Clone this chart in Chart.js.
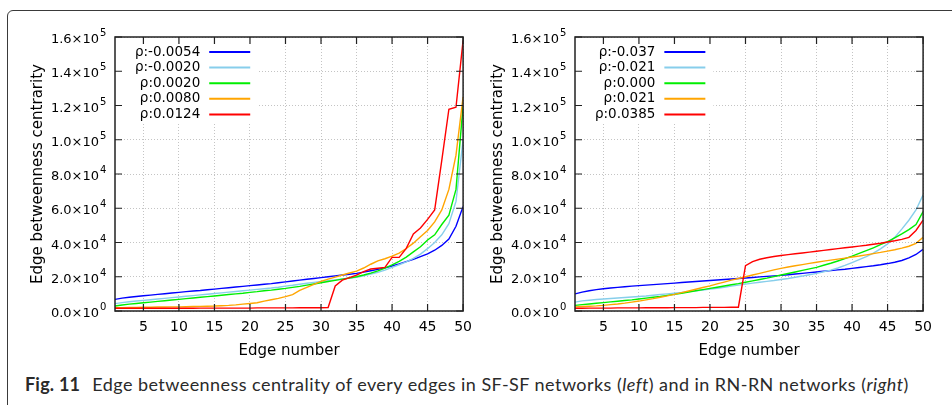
<!DOCTYPE html>
<html>
<head>
<meta charset="utf-8">
<script src="https://cdn.jsdelivr.net/npm/chart.js@4.4.1/dist/chart.umd.min.js"></script>
<style>
  html, body { margin: 0; padding: 0; background: #fff; }
  body { width: 952px; height: 405px; position: relative; overflow: hidden; }
  .card { position: absolute; left: 7px; top: 10px; width: 980px; height: 430px;
          border: 1px solid #3a3a3a; border-radius: 6px; box-sizing: border-box; }
  canvas { position: absolute; top: 0; }
  #sfChart { left: 0; }
  #rnChart { left: 460px; }
  .caption { position: absolute; left: 25px; top: 373px; font-family: Lato, sans-serif;
             font-size: 18px; letter-spacing: 0.45px; color: #2a2a2a; white-space: nowrap; }
  .caption b { margin-right: 7px; letter-spacing: 0.2px; }
</style>
</head>
<body>
<div class="card"></div>
<canvas id="sfChart" width="480" height="370"></canvas>
<canvas id="rnChart" width="480" height="370"></canvas>
<div class="caption"><b>Fig. 11</b> Edge betweenness centrality of every edges in SF-SF networks (<i>left</i>) and in RN-RN networks (<i>right</i>)</div>

<script>
// x: edge number 1..50
const edges = [1,2,3,4,5,6,7,8,9,10,11,12,13,14,15,16,17,18,19,20,21,22,23,24,25,
               26,27,28,29,30,31,32,33,34,35,36,37,38,39,40,41,42,43,44,45,46,47,48,49,50];
const xTicks = [5, 10, 15, 20, 25, 30, 35, 40, 45, 50];
const yTicks = [0, 20000, 40000, 60000, 80000, 100000, 120000, 140000, 160000];

// SF-SF networks (left)
const sfLabels = ['ρ:-0.0054', 'ρ:-0.0020', 'ρ:0.0020', 'ρ:0.0080', 'ρ:0.0124'];
const sfNeg0054 = [6800,7500,8000,8500,8900,9300,9700,10100,10500,10900,11300,11700,12000,12400,12800,
  13200,13600,14000,14400,14800,15200,15600,16000,16500,17000,17500,18000,18500,19000,19500,
  20000,20500,21000,21500,22000,22700,23500,24300,25200,26300,27500,28800,30200,31800,33400,
  35500,38300,42000,49500,61000];
const sfNeg0020 = [4300,4900,5400,5800,6200,6600,7000,7400,7800,8200,8600,9000,9400,9800,10200,
  10600,11000,11400,11800,12200,12600,13000,13400,13900,14500,15000,15600,16200,16700,17200,
  17700,18200,18700,19200,19700,20600,21600,22600,23900,25500,27000,28700,30700,33200,36400,
  40000,44500,51000,64000,100000];
const sfPos0020 = [2900,3500,4000,4400,4800,5200,5600,6000,6400,6800,7200,7600,8000,8400,8800,
  9200,9600,10000,10400,10900,11300,11800,12200,12700,13200,13800,14400,15100,15800,16500,
  17200,17900,18600,19300,20000,21000,22100,23400,25000,26900,29000,31500,34500,37500,41500,
  44500,50500,56000,71000,120000];
const sfPos0080 = [2000,2000,2100,2100,2200,2200,2300,2300,2400,2400,2500,2600,2700,2800,2900,
  3100,3300,3600,4000,4400,4800,5800,6600,7400,8400,9600,12000,13800,15600,17300,
  18600,19800,21000,22200,23300,25100,27300,29300,30500,32000,33800,36500,39600,43300,47000,
  52000,59000,71000,91000,125000];
const sfPos0124 = [1600,1600,1600,1600,1600,1600,1600,1600,1600,1600,1600,1600,1700,1700,1700,
  1700,1700,1700,1700,1700,1800,1800,1800,1800,1800,1800,1900,1900,1900,1900,
  2000,14600,18000,19500,21000,23000,24500,25000,25500,31300,31300,36600,45000,48500,53500,
  59000,88000,117800,119000,158000];

// RN-RN networks (right)
const rnLabels = ['ρ:-0.037', 'ρ:-0.021', 'ρ:0.000', 'ρ:0.021', 'ρ:0.0385'];
const rnNeg037 = [10000,11000,11800,12500,13000,13400,13800,14200,14500,14800,15100,15400,15700,16000,16300,
  16600,16900,17200,17500,17800,18100,18400,18700,19000,19300,19600,19900,20200,20500,20800,
  21200,21600,22000,22400,22800,23200,23600,24000,24400,24900,25400,25900,26400,27000,27700,
  28500,29500,31000,33000,36000];
const rnNeg021 = [5200,5900,6300,6700,7000,7300,7600,7900,8200,8500,8800,9200,9600,10000,10400,
  10800,11300,11800,12300,12800,13300,13900,14500,15100,15700,16300,16800,17300,17800,18400,
  19000,19700,20400,21200,22000,22900,23900,25100,26600,28300,30000,31800,33800,36300,39200,
  43000,47800,53000,59000,67800];
const rnPos000 = [3300,3700,4100,4500,4900,5300,5700,6100,6500,7000,7500,8000,8500,9100,9700,
  10400,11100,11800,12500,13200,13900,14600,15300,16000,16800,17600,18400,19200,20100,21000,
  21900,22800,23700,24600,25500,26700,27900,29200,30600,32000,33600,35200,36900,38700,40500,
  42700,45000,47500,50500,58000];
const rnPos021 = [2400,2600,2800,3000,3300,3700,4100,4600,5200,5800,6500,7200,8000,8800,9700,
  10700,11700,12700,13700,14700,15800,16900,18000,19000,20000,21000,22000,23000,24000,24900,
  25700,26400,27100,27800,28500,29100,29700,30300,30900,31500,32100,32800,33500,34200,35000,
  35800,36700,37800,39500,43000];
const rnPos0385 = [1600,1600,1700,1700,1700,1700,1800,1800,1800,1800,1900,1900,1900,1900,2000,
  2000,2000,2000,2100,2100,2100,2100,2200,2200,26500,28800,30200,31100,31800,32400,
  32900,33400,33900,34400,34900,35400,35900,36400,36900,37400,37900,38400,39000,39600,40300,
  41000,41800,43000,47000,53000];

const colors = ['#0000ff', '#87ceeb', '#00ee00', '#ffa500', '#ff0000'];
const FONT = 'DejaVu Sans';

function sup(ctx, v, x, y) {
  let mant = '0.0', exp = '0';
  if (v > 0) {
    const e = Math.floor(Math.log10(v));
    mant = (v / Math.pow(10, e)).toFixed(1);
    exp = String(e);
  }
  ctx.textAlign = 'right';
  ctx.textBaseline = 'alphabetic';
  ctx.font = '13px "' + FONT + '"';
  ctx.fillText(mant + '×10', x, y + 6);
  ctx.textAlign = 'left';
  ctx.font = '10px "' + FONT + '"';
  ctx.fillText(exp, x + 1, y - 1);
}

const framePlugin = {
  id: 'frame',
  afterDraw(chart) {
    const {ctx, chartArea: a, scales: {x, y}} = chart;
    const labels = chart.data.datasets.map(d => d.label);
    ctx.save();

    // key box
    ctx.font = '13.5px "' + FONT + '"';
    const maxW = Math.max(...labels.map(t => ctx.measureText(t).width));
    const textRight = a.left + 20 + maxW;
    const sampleL = textRight + 9, sampleR = sampleL + 41;
    ctx.fillStyle = '#fff';
    ctx.fillRect(a.left + 1, a.top + 1, sampleR + 7 - a.left, 123 - 37);
    labels.forEach((t, i) => {
      const ly = a.top + 15 + i * 15.6;
      ctx.fillStyle = '#000';
      ctx.textAlign = 'right';
      ctx.textBaseline = 'middle';
      ctx.fillText(t, textRight, ly);
      ctx.strokeStyle = chart.data.datasets[i].borderColor;
      ctx.lineWidth = 2;
      ctx.beginPath(); ctx.moveTo(sampleL, ly); ctx.lineTo(sampleR, ly); ctx.stroke();
    });

    // frame and inward ticks
    ctx.strokeStyle = '#222';
    ctx.lineWidth = 1.5;
    ctx.strokeRect(a.left, a.top, a.right - a.left, a.bottom - a.top);
    ctx.lineWidth = 1.2;
    ctx.beginPath();
    xTicks.forEach(v => {
      const px = x.getPixelForValue(v);
      ctx.moveTo(px, a.bottom); ctx.lineTo(px, a.bottom - 7);
      ctx.moveTo(px, a.top); ctx.lineTo(px, a.top + 7);
    });
    yTicks.forEach(v => {
      const py = y.getPixelForValue(v);
      ctx.moveTo(a.left, py); ctx.lineTo(a.left + 7, py);
      ctx.moveTo(a.right, py); ctx.lineTo(a.right - 7, py);
    });
    ctx.stroke();

    // y tick labels with superscript exponents
    ctx.fillStyle = '#000';
    yTicks.forEach(v => sup(ctx, v, a.left - 16, y.getPixelForValue(v)));
    ctx.restore();
  }
};

function makeChart(id, labels, series) {
  return new Chart(document.getElementById(id), {
    type: 'line',
    data: {
      datasets: series.map((s, i) => ({
        label: labels[i],
        data: s.map((v, j) => ({x: edges[j], y: v})),
        borderColor: colors[i],
        borderWidth: 1.4,
        pointRadius: 0,
        tension: 0,
        fill: false,
        order: 5 - i
      }))
    },
    options: {
      responsive: false,
      animation: false,
      events: [],
      layout: { padding: { top: 37, right: 12, left: 0, bottom: 0 } },
      plugins: { legend: { display: false }, tooltip: { enabled: false } },
      scales: {
        x: {
          type: 'linear', min: 1, max: 50,
          afterBuildTicks: s => { s.ticks = xTicks.map(v => ({value: v})); },
          afterFit: s => { s.height = 59; },
          grid: { color: '#c4c4c4', drawTicks: false },
          border: { display: false, dash: [1, 2] },
          ticks: { color: '#000', font: {family: FONT, size: 14}, padding: 8, maxRotation: 0, autoSkip: false },
          title: { display: true, text: 'Edge number', color: '#000',
                   font: {family: FONT, size: 15}, padding: {top: 0, bottom: 10} }
        },
        y: {
          min: 0, max: 160000,
          afterBuildTicks: s => { s.ticks = yTicks.map(v => ({value: v})); },
          afterFit: s => { s.width = 115; },
          grid: { color: '#c4c4c4', drawTicks: false },
          border: { display: false, dash: [1, 2] },
          ticks: { display: false },
          title: { display: true, text: 'Edge betweenness centrarity', color: '#000',
                   font: {family: FONT, size: 15}, padding: {top: 29, bottom: 0} }
        }
      }
    },
    plugins: [framePlugin]
  });
}

makeChart('sfChart', sfLabels, [sfNeg0054, sfNeg0020, sfPos0020, sfPos0080, sfPos0124]);
makeChart('rnChart', rnLabels, [rnNeg037, rnNeg021, rnPos000, rnPos021, rnPos0385]);
</script>
</body>
</html>
